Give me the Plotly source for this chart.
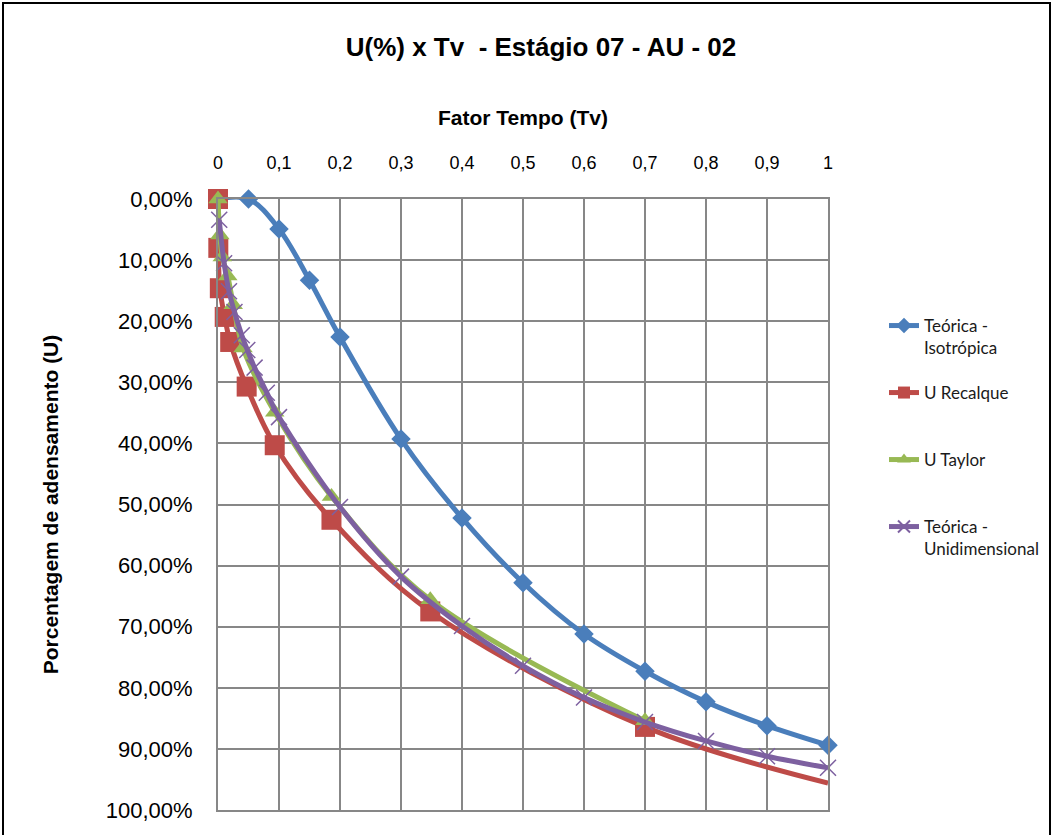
import plotly.graph_objects as go

# Tv (time factor) and U (% consolidation) for each series
tv_iso = [0, 0.05, 0.1, 0.15, 0.2, 0.3, 0.4, 0.5, 0.6, 0.7, 0.8, 0.9, 1.0]
u_iso = [0, 0, 4.9, 13.3, 22.6, 39.3, 52.2, 62.8, 71.2, 77.3, 82.3, 86.2, 89.4]

tv_recalque = [0, 0.0005, 0.003, 0.011, 0.02, 0.047, 0.093, 0.186, 0.348, 0.7, 1.0]
u_recalque = [0, 8.0, 14.6, 19.3, 23.4, 30.7, 40.3, 52.5, 67.5, 86.4, 95.6]

tv_taylor = [0, 0.003, 0.007, 0.016, 0.025, 0.041, 0.093, 0.186, 0.348, 0.7]
u_taylor = [0, 5.9, 9.5, 12.6, 17.3, 24.4, 34.9, 48.7, 65.6, 85.4]

tv_uni = [0.002, 0.01, 0.018, 0.027, 0.039, 0.048, 0.06, 0.08, 0.1,
          0.2, 0.3, 0.4, 0.5, 0.6, 0.7, 0.8, 0.9, 1.0]
u_uni = [3.4, 10.5, 15.1, 18.5, 22.3, 24.7, 27.6, 31.7, 35.7,
         50.4, 61.8, 69.9, 76.4, 81.6, 85.6, 88.7, 91.2, 93.1]

x_ticks = [0, 0.1, 0.2, 0.3, 0.4, 0.5, 0.6, 0.7, 0.8, 0.9, 1.0]
y_ticks = [0, 10, 20, 30, 40, 50, 60, 70, 80, 90, 100]
y_tick_text = [f"{v:.2f}".replace(".", ",") + "%" for v in y_ticks]

BLUE = "#4A7EBB"
RED = "#BE4B48"
GREEN = "#98B954"
PURPLE = "#7D60A0"
GRID = "#878787"

W, H = 1053, 835
ML, MR, MT, MB = 218, 225, 199, 25
PW = W - ML - MR
PH = H - MT - MB


def px_x(px):
    return (px - ML) / PW


def px_y(py):
    return (H - MB - py) / PH


fig = go.Figure()

fig.add_trace(go.Scatter(
    x=tv_iso, y=u_iso, name="Teórica -<br>Isotrópica",
    mode="lines+markers", line=dict(color=BLUE, width=5, shape="spline"),
    marker=dict(symbol="diamond", size=15, color=BLUE, opacity=1, line=dict(width=0)),
    cliponaxis=False, legend="legend",
))

# last point of this series is drawn without a marker
rec_sizes = [20] * (len(tv_recalque) - 1) + [0]
fig.add_trace(go.Scatter(
    x=tv_recalque, y=u_recalque, name="U Recalque",
    mode="lines+markers", line=dict(color=RED, width=5, shape="spline"),
    marker=dict(symbol="square", size=rec_sizes, color=RED, opacity=1,
                line=dict(width=0)),
    cliponaxis=False, legend="legend2",
))

fig.add_trace(go.Scatter(
    x=tv_taylor, y=u_taylor, name="U Taylor",
    mode="lines+markers", line=dict(color=GREEN, width=5, shape="spline"),
    marker=dict(symbol="triangle-up", size=17, color=GREEN, opacity=1,
                line=dict(width=0)),
    cliponaxis=False, legend="legend3",
))

fig.add_trace(go.Scatter(
    x=tv_uni, y=u_uni, name="Teórica -<br>Unidimensional",
    mode="lines+markers", line=dict(color=PURPLE, width=5, shape="spline"),
    marker=dict(symbol="x-thin", size=16, color=PURPLE, opacity=1,
                line=dict(width=1.5, color=PURPLE)),
    cliponaxis=False, legend="legend4",
))

legend_font = dict(family="Lato, Open Sans, sans-serif", size=17, color="#1a1a1a")
legend_x = px_x(884)


def legend_at(py):
    return dict(
        x=legend_x, xanchor="left", y=px_y(py), yanchor="top",
        font=legend_font, bgcolor="rgba(0,0,0,0)", borderwidth=0,
        valign="top", itemsizing="constant",
    )


axis_font = dict(family="Liberation Sans, Arial, sans-serif", color="#000000")

fig.update_layout(
    width=W, height=H,
    margin=dict(l=ML, r=MR, t=MT, b=MB, autoexpand=False),
    paper_bgcolor="white", plot_bgcolor="white",
    separators=", ",
    showlegend=True,
    title=dict(
        text="<b>U(%) x Tv  - Estágio 07 - AU - 02</b>",
        font=dict(family="Liberation Sans, Arial, sans-serif", size=26, color="#000000"),
        x=px_x(541), xref="paper", xanchor="center",
        y=1 - 47 / H, yref="container", yanchor="middle",
    ),
    legend=legend_at(308),
    legend2=legend_at(375),
    legend3=legend_at(442),
    legend4=legend_at(509),
    xaxis=dict(
        side="top", range=[0, 1], tickvals=x_ticks,
        showgrid=True, gridcolor=GRID, gridwidth=2,
        showline=True, linecolor=GRID, linewidth=2, mirror=True,
        zeroline=False, ticks="", ticklabelstandoff=21,
        tickfont=dict(size=18, **axis_font),
        title=dict(text="<b>Fator Tempo (Tv)</b>", standoff=21,
                   font=dict(size=21, **axis_font)),
        fixedrange=True,
    ),
    yaxis=dict(
        range=[100, 0], tickmode="array", tickvals=y_ticks, ticktext=y_tick_text,
        showgrid=True, gridcolor=GRID, gridwidth=2,
        showline=True, linecolor=GRID, linewidth=2, mirror=True,
        zeroline=False, ticks="", ticklabelstandoff=19,
        tickfont=dict(size=22, **axis_font),
        title=dict(text="<b>Porcentagem de adensamento (U)</b>", standoff=41,
                   font=dict(size=21, **axis_font)),
        fixedrange=True,
    ),
    shapes=[dict(
        type="rect", xref="paper", yref="paper",
        x0=px_x(3), x1=px_x(1050), y0=px_y(850), y1=px_y(3),
        line=dict(color="#000000", width=2), fillcolor="rgba(0,0,0,0)",
        layer="above",
    )],
)

fig.write_html("out.html")
